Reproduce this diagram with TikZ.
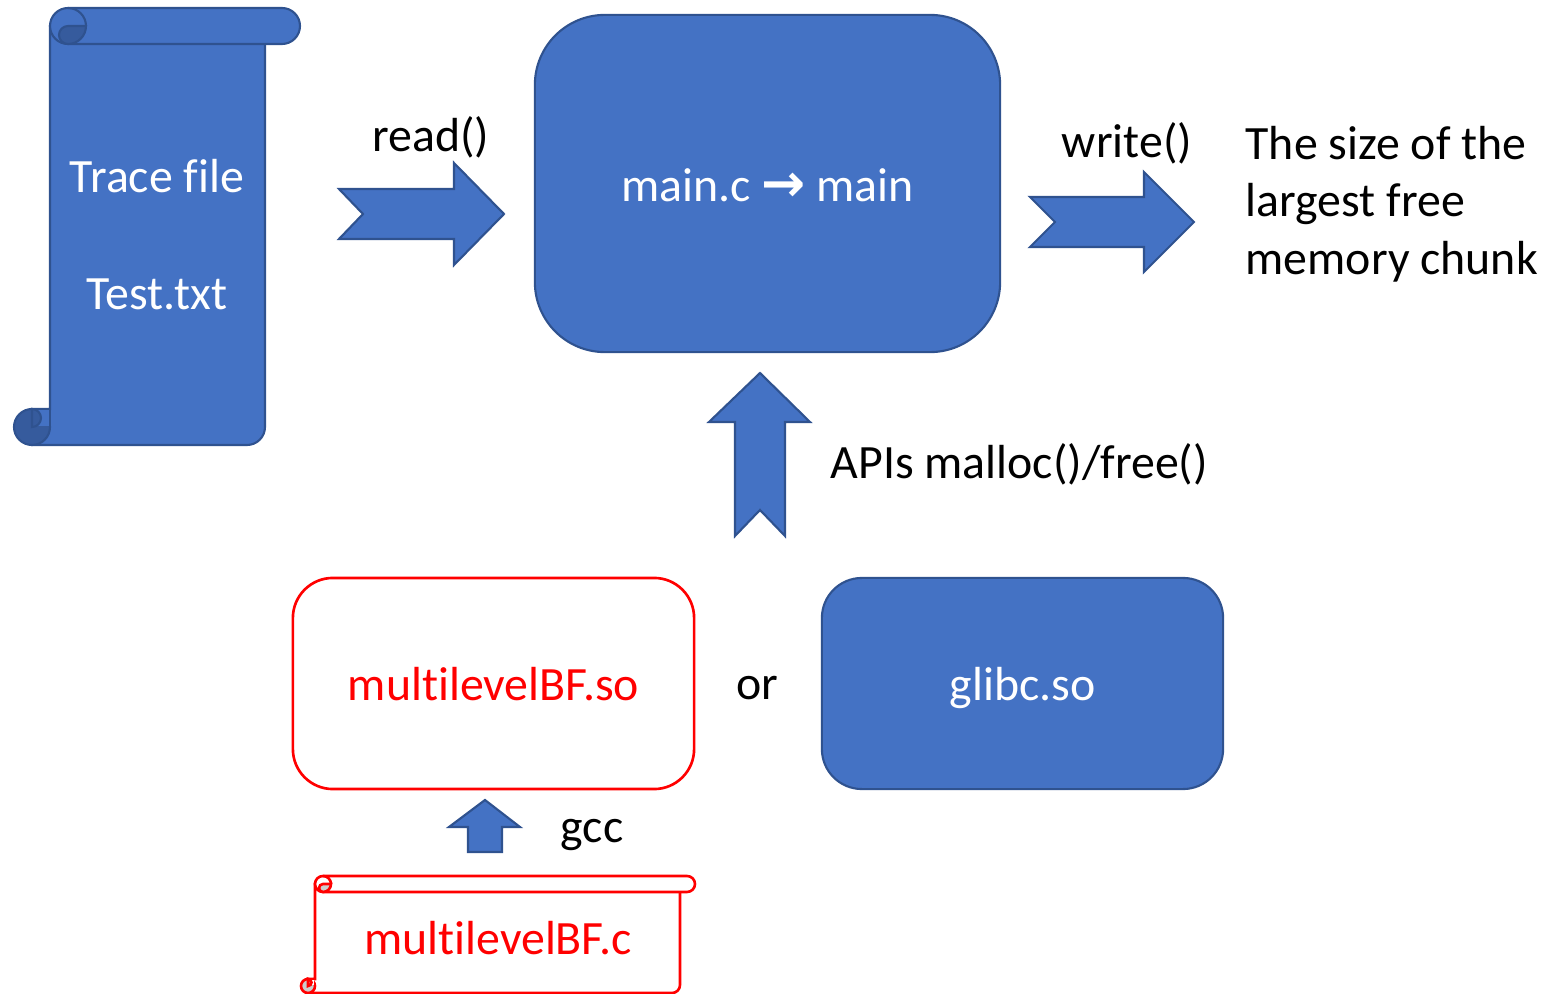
\documentclass[tikz,border=0pt]{standalone}
\usepackage{fontspec}
\setmainfont{Carlito}[Ligatures=NoCommon]
\newfontfamily\arrowfont{DejaVu Sans}
\definecolor{boxBlue}{HTML}{4472C4}
\definecolor{edgeBlue}{HTML}{2F528F}
\definecolor{rollBlue}{HTML}{365B9D}
\definecolor{rollGray}{HTML}{CCCCCC}
\begin{document}
\begin{tikzpicture}
[x=0.01cm,y=-0.01cm,%
  font=\fontsize{13.6}{16.3}\selectfont,%
  blueBox/.style={draw=edgeBlue,fill=boxBlue,line width=0.6pt,text=white,
    rounded corners=0.4cm,minimum width=4.01cm,minimum height=2.11cm,
    text height=9.4pt,text depth=0pt,inner sep=0pt},%
  redBox/.style={blueBox,draw=red,fill=white,text=red,line width=0.75pt},%
  labelText/.style={inner sep=0pt,anchor=base},%
  blockArrow/.style={draw=edgeBlue,fill=boxBlue,line width=0.6pt},%
  scrollBlue/.style={draw=edgeBlue,fill=boxBlue,line width=0.6pt},%
  curlBlue/.style={draw=edgeBlue,fill=rollBlue,line width=0.6pt},%
  scrollRed/.style={draw=red,fill=white,line width=0.75pt},%
  curlRed/.style={draw=red,fill=rollGray,line width=0.75pt}]
\useasboundingbox (0,0) rectangle (1553,994);
%% trace file scroll
\filldraw[scrollBlue] (50,26) -- (265,26) -- (265,427)
  arc[start angle=0,end angle=90,radius=18] -- (32,445) -- (32,409) -- (50,409) -- cycle;
\filldraw[curlBlue] (32,427) circle[radius=18];
\fill[boxBlue] (32,410) rectangle (49,426);
\filldraw[curlBlue] (32,409) arc[start angle=-90,end angle=90,radius=9] -- cycle;
\draw[edgeBlue,line width=0.6pt] (50,409) -- (50,427);
\filldraw[scrollBlue,rounded corners=0.18cm] (50,8) rectangle (300,44);
\filldraw[curlBlue] (68,26) arc[start angle=270,end angle=90,radius=9]
  arc[start angle=90,end angle=0,radius=18] -- cycle;
\draw[edgeBlue,line width=0.6pt] (86,26) arc[start angle=0,end angle=-90,radius=18];
\node (tracefile) at (157,193) [labelText,text=white] {Trace file};
\node (testfile) at (157,310) [labelText,text=white] {Test.txt};
%% source file scroll
\filldraw[scrollRed] (315,884) -- (680,884) -- (680,985)
  arc[start angle=0,end angle=90,radius=8] -- (308,993) -- (308,979) -- (315,979) -- cycle;
\filldraw[curlRed] (308,986) circle[radius=7];
\fill[white] (308,980) rectangle (314,985);
\filldraw[curlRed] (308,979) arc[start angle=-90,end angle=90,radius=3.5] -- cycle;
\filldraw[scrollRed,rounded corners=0.08cm] (315,876) rectangle (695,892);
\filldraw[curlRed] (323,884) arc[start angle=270,end angle=90,radius=4]
  arc[start angle=90,end angle=0,radius=8] -- cycle;
\draw[red,line width=0.75pt] (331,884) arc[start angle=0,end angle=-90,radius=8];
\node (srcfile) at (498,955) [labelText,text=red] {multilevelBF.c};
%% program and libraries
\node (mainprog) at (767.5,183.5) [blueBox,minimum width=4.65cm,minimum height=3.37cm,
  rounded corners=0.7cm,text height=10.5pt]
  {main.c {\arrowfont\bfseries\fontsize{15}{16}\selectfont →} main};
\node (mylib) at (493.5,683.5) [redBox] {multilevelBF.so};
\node (glibc) at (1022.5,683.5) [blueBox] {glibc.so};
%% block arrows
\filldraw[blockArrow] (339,189) -- (454,189) -- (454,163) -- (504,214) -- (454,265)
  -- (454,239) -- (339,239) -- (363,214) -- cycle;
\filldraw[blockArrow] (1030,197) -- (1144,197) -- (1144,172) -- (1194,222) -- (1144,272)
  -- (1144,247) -- (1030,247) -- (1055,222) -- cycle;
\filldraw[blockArrow] (760,373) -- (810,422) -- (785,422) -- (785,536) -- (760,510)
  -- (735,536) -- (735,422) -- (709,422) -- cycle;
\filldraw[blockArrow] (485,800) -- (520,827) -- (502,827) -- (502,852) -- (468,852)
  -- (468,827) -- (449,827) -- cycle;
%% labels
\foreach \nodename/\x/\y/\txt in {
  readlbl/431/152/read(), writelbl/1127/158/write(),
  orlbl/757/700/or, gcclbl/592/843/gcc}
{
  \node (\nodename) at (\x,\y) [labelText] {\txt};
}
\node (apilbl) at (830,479) [labelText,anchor=base west] {APIs malloc()/free()};
\node (result) at (1245,204) [inner sep=0pt,anchor=west,align=left]
  {The size of the\\largest free\\memory chunk};
\end{tikzpicture}
\end{document}
